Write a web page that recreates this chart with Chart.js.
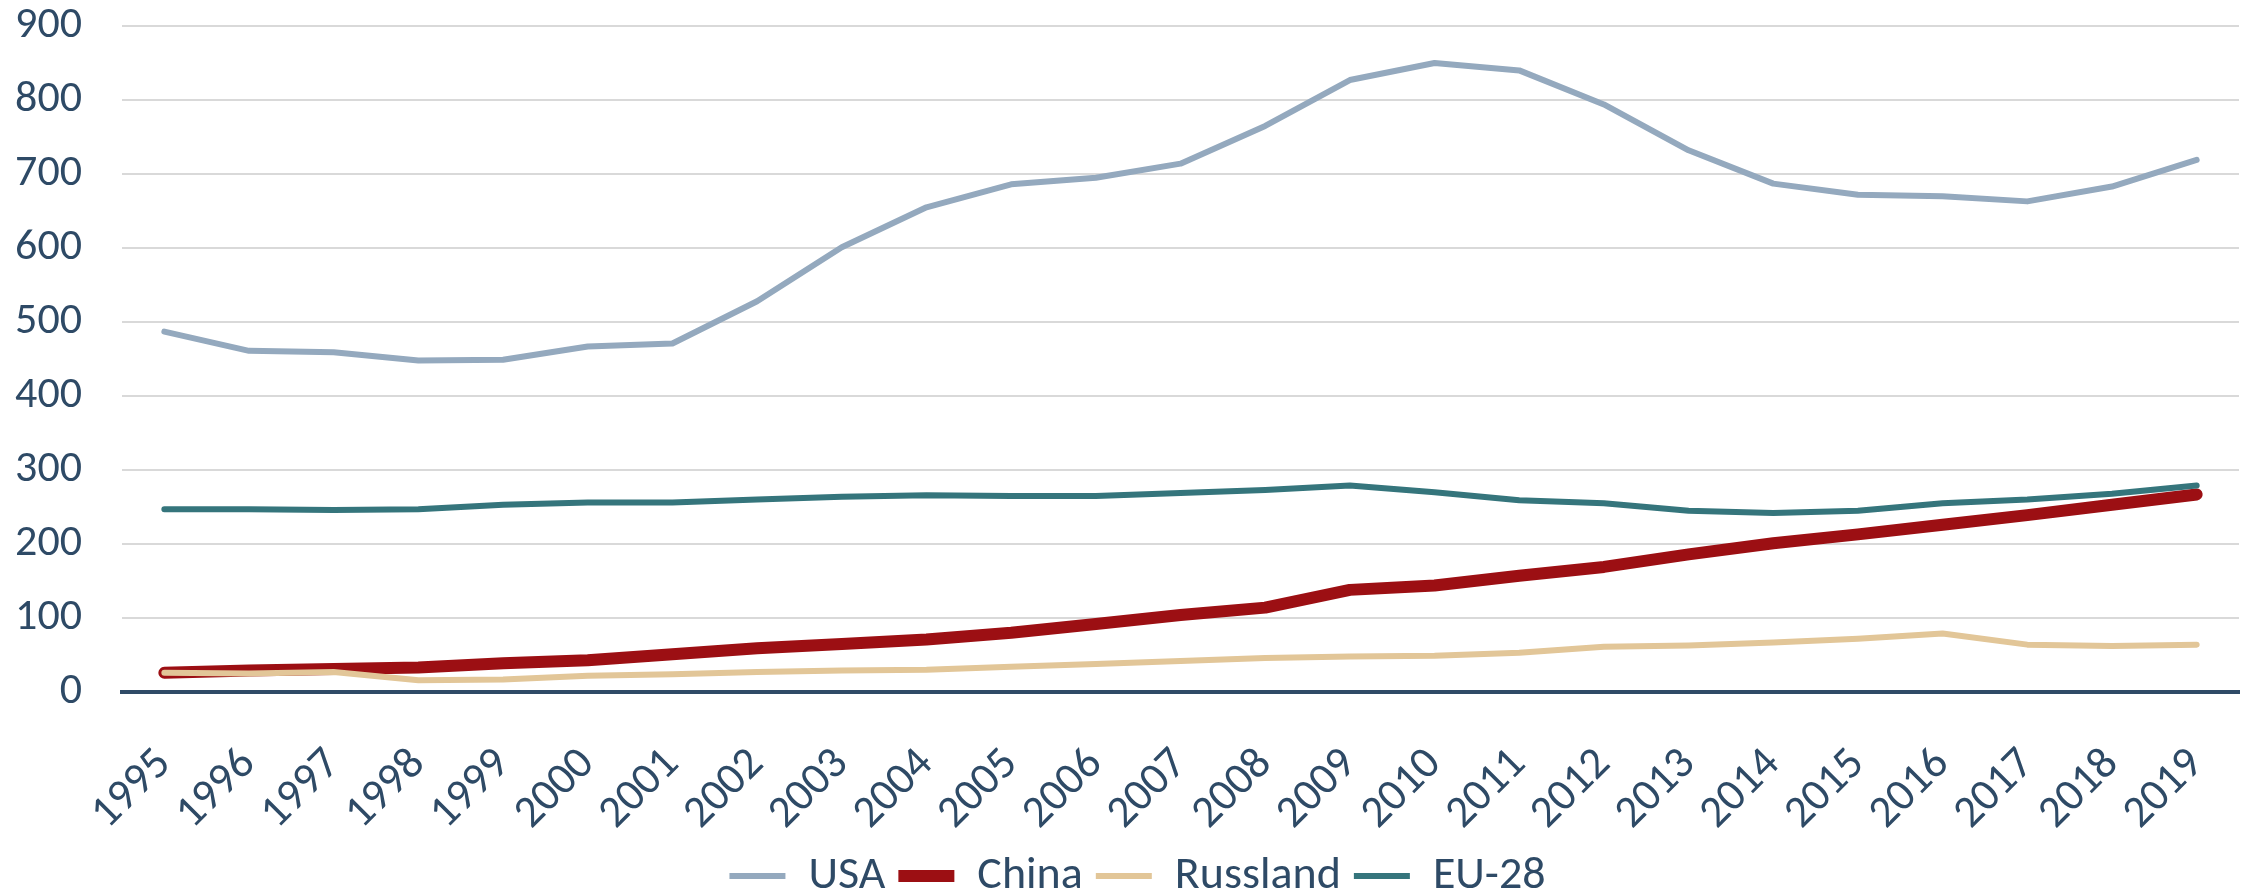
<!DOCTYPE html>
<html>
<head>
<meta charset="utf-8">
<script src="https://cdn.jsdelivr.net/npm/chart.js@4.4.1/dist/chart.umd.min.js"></script>
<style>
    html, body { margin: 0; padding: 0; background: #ffffff; }
    #wrap { width: 2249px; height: 890px; position: relative; }
</style>
</head>
<body>
<div id="wrap"><canvas id="lineChart"></canvas></div>
<script>
const years = ['1995', '1996', '1997', '1998', '1999', '2000', '2001', '2002', '2003', '2004', '2005', '2006',
    '2007', '2008', '2009', '2010', '2011', '2012', '2013', '2014', '2015', '2016', '2017', '2018', '2019'];

const usaValues = [487, 461, 459, 448, 449, 467, 471, 528, 601, 655, 686, 695,
    714, 765, 827, 850, 840, 794, 732, 687, 672, 670, 663, 683, 719];
const chinaValues = [26, 29, 31, 33, 39, 43, 51, 59, 65, 71, 80, 92,
    104, 114, 138, 144, 157, 169, 186, 201, 213, 226, 239, 253, 267];
const russlandValues = [26, 25, 27, 16, 17, 22, 24, 27, 29, 30, 34, 38,
    42, 46, 48, 49, 53, 61, 63, 67, 72, 79, 64, 62, 64];
const euValues = [247, 247, 246, 247, 253, 256, 256, 260, 264, 266, 265, 265,
    269, 273, 279, 270, 259, 255, 245, 242, 245, 255, 260, 268, 279];

const yTicks = [0, 100, 200, 300, 400, 500, 600, 700, 800, 900];

const textColor = '#2E4A66';
const fontFamily = 'Carlito, Calibri, Lato, sans-serif';

function lineSet(label, values, color, width, order) {
    return {
        label: label,
        data: values,
        borderColor: color,
        backgroundColor: color,
        borderWidth: width,
        borderCapStyle: 'round',
        borderJoinStyle: 'round',
        pointRadius: 0,
        pointHoverRadius: 0,
        tension: 0,
        fill: false,
        order: order
    };
}

// y labels stick out past the left padding, let them draw there
const yLabelRoom = {
    id: 'yLabelRoom',
    afterLayout(chart) {
        chart.scales.y.left = 0;
    }
};

const config = {
    type: 'line',
    data: {
        labels: years,
        datasets: [
            lineSet('USA', usaValues, '#94A9BE', 6, 3),
            lineSet('China', chinaValues, '#9C0F13', 12, 2),
            lineSet('Russland', russlandValues, '#E2C698', 6, 1),
            lineSet('EU-28', euValues, '#35757C', 6, 0)
        ]
    },
    options: {
        responsive: true,
        maintainAspectRatio: false,
        animation: false,
        layout: {
            padding: { top: 26, right: 10, bottom: 0, left: 36 }
        },
        scales: {
            x: {
                offset: true,
                grid: { display: false, drawTicks: false },
                border: { display: true, color: '#2F4B67', width: 4 },
                ticks: {
                    color: textColor,
                    font: { family: fontFamily, size: 45 },
                    minRotation: 45,
                    maxRotation: 45,
                    padding: 46,
                    autoSkip: false
                },
                afterFit: function(scale) {
                    scale.height = 148;
                    scale.paddingLeft = 0;
                    scale.paddingRight = 0;
                }
            },
            y: {
                min: 0,
                max: 900,
                afterBuildTicks: function(scale) {
                    scale.ticks = yTicks.map(v => ({ value: v }));
                },
                grid: {
                    drawTicks: false,
                    color: ctx => ctx.tick && ctx.tick.value === 0 ? '#2F4B67' : '#D9D9D9',
                    lineWidth: ctx => ctx.tick && ctx.tick.value === 0 ? 4 : 2
                },
                border: { display: false },
                ticks: {
                    color: textColor,
                    font: { family: fontFamily, size: 44 },
                    padding: 40
                },
                afterFit: function(scale) {
                    scale.width = 86;
                    scale.paddingTop = 0;
                    scale.paddingBottom = 0;
                }
            }
        },
        plugins: {
            tooltip: { enabled: false },
            legend: {
                position: 'bottom',
                maxHeight: 50,
                labels: {
                    usePointStyle: true,
                    pointStyle: 'line',
                    pointStyleWidth: 56,
                    color: textColor,
                    font: { family: fontFamily, size: 46 },
                    padding: 13,
                    sort: (a, b) => a.datasetIndex - b.datasetIndex
                }
            }
        }
    },
    plugins: [yLabelRoom]
};

const ctx = document.getElementById('lineChart').getContext('2d');
const myLineChart = new Chart(ctx, config);
</script>
</body>
</html>
